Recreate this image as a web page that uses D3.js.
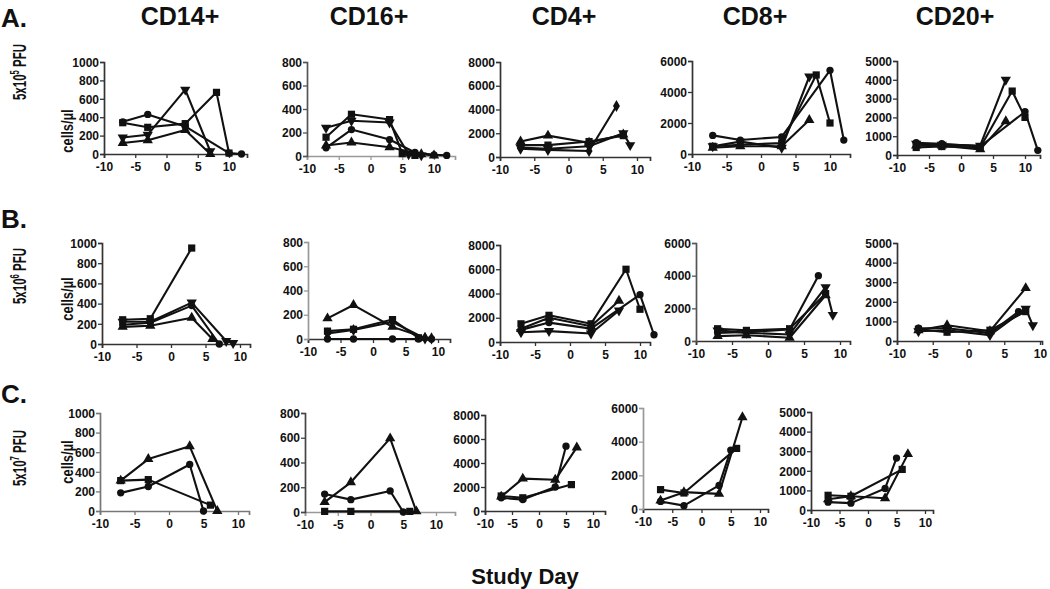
<!DOCTYPE html>
<html><head><meta charset="utf-8">
<script src="https://cdn.jsdelivr.net/npm/d3@7"></script>
<style>
body{margin:0;background:#fff}
svg{display:block}
text{font-family:"Liberation Sans",Arial,sans-serif;font-weight:bold;fill:#111}
</style>
</head><body>
<svg id="chart" width="1050" height="589"></svg>
<script>
// ---------------- DATA ----------------
const columns = ["CD14+", "CD16+", "CD4+", "CD8+", "CD20+"];
const rowLetters = ["A.", "B.", "C."];
const doseExponents = ["5", "6", "7"];
const yMaxByColumn = [1000, 800, 8000, 6000, 5000];
const yStepByColumn = [200, 200, 2000, 2000, 1000];
const xTicks = [-10, -5, 0, 5, 10];
const xAxisTitle = "Study Day";
const yAxisTitle = "cells/µl";

// each panel: list of [subject, [[study day, cells/µl], ...]]
const A_CD14 = [
  ["P1", [[-7,350],[-3,430],[3,300],[10,10],[12,0]]],
  ["P2", [[-7,340],[-3,290],[3,330],[8,670],[10,10]]],
  ["P4", [[-7,180],[-3,210],[3,700],[7,30]]],
  ["P3", [[-7,120],[-3,150],[3,260],[7,0]]]
];
const A_CD16 = [
  ["P2", [[-7,160],[-3,355],[3,310],[5,20],[7,5]]],
  ["P4", [[-7,240],[-3,300],[3,285],[6,15],[8,5]]],
  ["P1", [[-7,70],[-3,225],[3,140],[7,30],[10,10],[12,5]]],
  ["P3", [[-7,90],[-3,115],[3,75],[8,15],[10,5]]]
];
const A_CD4 = [
  ["P3", [[-7,1300],[-3,1800],[3,1200],[8,1900]]],
  ["P2", [[-7,1000],[-3,1000],[3,1300],[8,1800]]],
  ["P5", [[-7,700],[-3,600],[3,500],[7,4300]]],
  ["P4", [[-7,800],[-3,700],[3,900],[8,2000],[9,1000]]]
];
const A_CD8 = [
  ["P1", [[-7,1200],[-3,900],[3,1100],[10,5400],[12,900]]],
  ["P2", [[-7,500],[-3,600],[3,700],[8,5100],[10,2000]]],
  ["P4", [[-7,500],[-3,800],[3,400],[7,5000]]],
  ["P3", [[-7,400],[-3,500],[3,500],[7,2200]]]
];
const A_CD20 = [
  ["P4", [[-7,600],[-3,550],[3,500],[7,4000]]],
  ["P2", [[-7,400],[-3,450],[3,400],[8,3400],[10,2000]]],
  ["P3", [[-7,500],[-3,500],[3,300],[7,1800]]],
  ["P1", [[-7,650],[-3,600],[3,450],[10,2300],[12,250]]]
];
const B_CD14 = [
  ["P3", [[-7,170],[-3,180],[3,260],[6,50]]],
  ["P1", [[-7,190],[-3,210],[3,380],[7,0]]],
  ["P4", [[-7,220],[-3,220],[3,410],[8,30],[9,10]]],
  ["P2", [[-7,240],[-3,250],[3,950]]]
];
const B_CD16 = [
  ["P3", [[-7,170],[-3,280],[3,100],[8,10]]],
  ["P2", [[-7,65],[-3,80],[3,160],[7,10]]],
  ["P5", [[-7,45],[-3,75],[3,140],[8,5],[9,5]]],
  ["P1", [[-7,0],[-3,0],[3,0],[7,0],[9,0]]]
];
const B_CD4 = [
  ["P2", [[-7,1500],[-3,2200],[3,1500],[8,6000],[10,2700]]],
  ["P3", [[-7,1100],[-3,2000],[3,1300],[7,3400]]],
  ["P1", [[-7,1000],[-3,1600],[3,1100],[10,3900],[12,600]]],
  ["P4", [[-7,800],[-3,900],[3,700],[7,2600]]]
];
const B_CD8 = [
  ["P1", [[-7,500],[-3,550],[3,700],[7,4000]]],
  ["P4", [[-7,650],[-3,500],[3,400],[8,3300],[9,1600]]],
  ["P2", [[-7,750],[-3,650],[3,750],[8,2900]]],
  ["P3", [[-7,300],[-3,350],[3,200],[8,2800]]]
];
const B_CD20 = [
  ["P3", [[-7,550],[-3,800],[3,500],[8,2700]]],
  ["P1", [[-7,650],[-3,650],[3,400],[7,1500]]],
  ["P4", [[-7,500],[-3,550],[3,300],[8,1650],[9,800]]],
  ["P2", [[-7,600],[-3,450],[3,550],[8,1500]]]
];
const C_CD14 = [
  ["P3", [[-7,310],[-3,530],[3,660],[7,0]]],
  ["P2", [[-7,310],[-3,320],[6,60]]],
  ["P1", [[-7,185],[-3,250],[3,475],[5,0]]]
];
const C_CD16 = [
  ["P3", [[-7,80],[-3,240],[3,595],[7,5]]],
  ["P1", [[-7,145],[-3,100],[3,170],[5,0]]],
  ["P2", [[-7,5],[-3,5],[6,5]]]
];
const C_CD4 = [
  ["P1", [[-7,1100],[-3,950],[3,2000],[5,5400]]],
  ["P3", [[-7,1200],[-3,2700],[3,2600],[7,5300]]],
  ["P2", [[-7,1250],[-3,1100],[6,2200]]]
];
const C_CD8 = [
  ["P2", [[-7,1150],[-3,950],[6,3600]]],
  ["P1", [[-7,450],[-3,200],[3,1400],[5,3500]]],
  ["P3", [[-7,500],[-3,1000],[3,900],[7,5450]]]
];
const C_CD20 = [
  ["P1", [[-7,400],[-3,350],[3,1100],[5,2650]]],
  ["P3", [[-7,550],[-3,700],[3,600],[7,2850]]],
  ["P2", [[-7,750],[-3,700],[6,2070]]]
];
const panelData = [
  [A_CD14, A_CD16, A_CD4, A_CD8, A_CD20],
  [B_CD14, B_CD16, B_CD4, B_CD8, B_CD20],
  [C_CD14, C_CD16, C_CD4, C_CD8, C_CD20]
];

// ---------------- LAYOUT / STYLE ----------------
// per panel: [x of day -10, x of day 10, x right end, y of max, y of 0]
const layout = [
  [[104,229,247,62,154],[307,434,455,62,156],[500,637,650,62,157],[692,830,850,61,154],[897,1025,1040,61,155]],
  [[102,240,250,243,344],[308,438,450,242,339],[500,640,650,245,342],[696,840,850,243,341],[897,1040,1042,243,341]],
  [[100,238,249,413,511],[305,436,455,413,512],[485,593,605,415,511],[643,760,768,408,509],[811,925,933,412,510]]
];
// axis line colours per panel: [x axis, y axis]
const axisColors = [
  [["#333","#333"],["#999","#555"],["#333","#333"],["#333","#333"],["#333","#333"]],
  [["#333","#333"],["#333","#999"],["#333","#333"],["#333","#555"],["#333","#333"]],
  [["#777","#777"],["#999","#444"],["#333","#333"],["#333","#999"],["#333","#333"]]
];
const subjectMarker = {P1:"circle", P2:"square", P3:"triangle", P4:"invtriangle", P5:"diamond"};
const titleX = [180, 369, 564, 755, 955];
const rowLetterY = [27, 228, 403];
const rowLabelY = [72, 276, 458];
const cellsLabelY = [131, 299, 462];

const svg = d3.select("#chart");
const ink = "#111";

function markerPath(kind) {
  const t = {circle:d3.symbolCircle, square:d3.symbolSquare, triangle:d3.symbolTriangle,
             invtriangle:d3.symbolTriangle, diamond:d3.symbolDiamond}[kind];
  const size = {circle:42, square:52, triangle:46, invtriangle:46, diamond:42}[kind];
  return d3.symbol().type(t).size(size)();
}

// column titles
svg.selectAll("text.coltitle").data(columns).join("text")
  .attr("class","coltitle")
  .attr("x",(d,i)=>titleX[i]).attr("y",25)
  .attr("text-anchor","middle").style("font-size","25px")
  .text(d=>d);

// row letters
svg.selectAll("text.rowletter").data(rowLetters).join("text")
  .attr("class","rowletter")
  .attr("x",1).attr("y",(d,i)=>rowLetterY[i])
  .style("font-size","26px")
  .text(d=>d);

// dose labels (rotated)
doseExponents.forEach((e,i)=>{
  const t = svg.append("text")
    .attr("transform",`translate(26,${rowLabelY[i]}) rotate(-90) scale(0.64,1)`)
    .attr("text-anchor","middle")
    .attr("font-size", 18);
  t.append("tspan").attr("font-size",18).text("5x10");
  t.append("tspan").attr("dy",-7).attr("font-size",12).text(e);
  t.append("tspan").attr("dy",7).attr("font-size",18).text(" PFU");
});

// cells/µl labels
cellsLabelY.forEach(y=>{
  svg.append("text")
    .attr("transform",`translate(73,${y}) rotate(-90) scale(0.76,1)`)
    .attr("text-anchor","middle").attr("font-size",17)
    .text(yAxisTitle);
});

// x axis title
svg.append("text").attr("x",525).attr("y",584).attr("text-anchor","middle")
  .attr("font-size",22).text(xAxisTitle);

// panels
panelData.forEach((row,r)=>{
  row.forEach((series,c)=>{
    const [x0,x10,xEnd,yTop,yBot] = layout[r][c];
    const pxPerDay = (x10-x0)/20;
    const dMax = -10 + (xEnd-x0)/pxPerDay;
    const x = d3.scaleLinear().domain([-10,dMax]).range([x0,xEnd]);
    const y = d3.scaleLinear().domain([0,yMaxByColumn[c]]).range([yBot,yTop]);
    const g = svg.append("g");
    const yTicks = d3.range(0, yMaxByColumn[c]+1, yStepByColumn[c]);
    const [cx, cy] = axisColors[r][c];

    const gx = g.append("g").attr("transform",`translate(0,${yBot})`)
      .call(d3.axisBottom(x).tickValues(xTicks).tickSizeOuter(0).tickSize(4).tickFormat(d=>String(d)));
    const gy = g.append("g").attr("transform",`translate(${x0},0)`)
      .call(d3.axisLeft(y).tickValues(yTicks).tickSizeOuter(0).tickSize(4).tickFormat(d=>String(d)));
    [[gx,cx],[gy,cy]].forEach(([a,col])=>{
      a.select(".domain").attr("stroke",col).attr("stroke-width",1.7);
      a.selectAll(".tick line").attr("stroke",col).attr("stroke-width",1.3);
      a.selectAll(".tick text").style("font-size","12px").style("font-family",'"Liberation Sans",Arial,sans-serif')
        .style("font-weight","bold").attr("fill",ink);
    });
    gx.selectAll(".tick text").attr("dy","0.85em");
    gy.selectAll(".tick text").attr("x",-5).attr("dy","0.35em");

    const line = d3.line().x(d=>x(d[0])).y(d=>y(d[1]));
    series.forEach(([subj,pts])=>{
      g.append("path").attr("d",line(pts)).attr("fill","none")
        .attr("stroke",ink).attr("stroke-width",2.1).attr("stroke-linejoin","round");
      g.selectAll(null).data(pts).join("path")
        .attr("d",markerPath(subjectMarker[subj]))
        .attr("transform",d=>`translate(${x(d[0])},${y(d[1])})${subjectMarker[subj]==="invtriangle"?" rotate(180)":""}`)
        .attr("fill",ink);
    });
  });
});
</script>
</body></html>
